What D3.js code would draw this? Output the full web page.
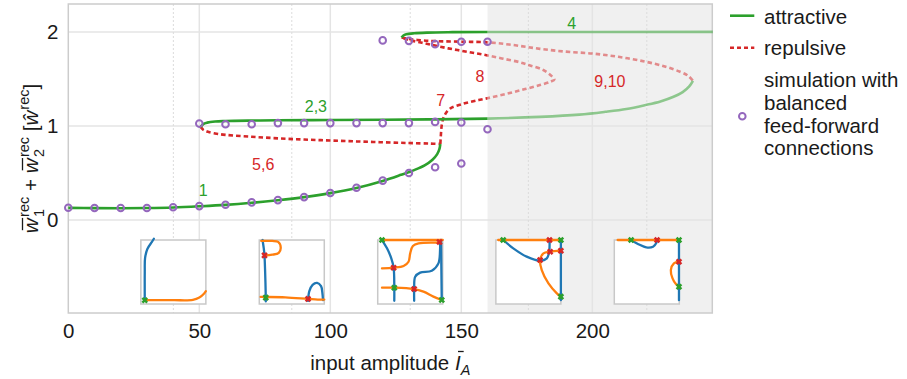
<!DOCTYPE html>
<html>
<head>
<meta charset="utf-8">
<script src="https://cdn.jsdelivr.net/npm/d3@7"></script>
<style>
  html, body { margin: 0; padding: 0; background: #fff; }
  svg { display: block; font-family: "Liberation Sans", Arial, Helvetica, sans-serif; }
</style>
</head>
<body>
<svg id="chart" width="907" height="379"></svg>
<script>
// ---- data ----
const xTicks = [0, 50, 100, 150, 200];
const yTicks = [0, 1, 2];
const shadeFrom = 160;          // grey region (input > 160)

// branch 1 : low attractive state
const lowAttr = [[0,0.128],[10,0.126],[20,0.125],[30,0.127],[40,0.133],[50,0.145],[60,0.16],[70,0.182],
  [80,0.21],[90,0.243],[100,0.285],[110,0.34],[120,0.415],[127,0.48],[132,0.53],[136,0.58],[139,0.64],
  [140.8,0.7],[141.6,0.75],[142,0.808]];
// branch 2,3 : middle attractive state (continues light up to the fold)
const midAttr = [[50.5,0.99],[51.5,1.02],[53,1.035],[56,1.047],[60,1.052],[70,1.057],[80,1.06],[100,1.063],
  [120,1.066],[140,1.07],[160,1.078],[180,1.096],[195,1.12],[205,1.15],[213,1.18],[220,1.22],[226,1.26],
  [231,1.31],[234.5,1.36],[237,1.42],[238.4,1.48]];
// branch 4 : high attractive state
const highAttr = [[127.2,1.94],[127.8,1.96],[129,1.975],[132,1.986],[137,1.993],[145,1.997],[160,1.999],[246,2.0]];
// branch 5,6 : repulsive
const rep56 = [[50.5,0.99],[51.5,0.96],[53,0.94],[56,0.92],[60,0.905],[70,0.885],[80,0.868],[90,0.855],
  [100,0.845],[110,0.835],[120,0.826],[130,0.818],[138,0.812],[142,0.808]];
// branches 7 and 8 : repulsive
const rep78 = [[142,0.808],[142.2,0.9],[142.5,1.0],[143,1.07],[144.2,1.14],[146,1.19],[150,1.23],[155,1.265],
  [160,1.295],[167,1.34],[174,1.39],[180,1.435],[184,1.47],[185.5,1.495],[184.5,1.53],[181.3,1.595],
  [176,1.645],[172.4,1.677],[166,1.715],[160,1.75],[155,1.775],[150,1.8],[145,1.825],[140,1.855],
  [135,1.885],[130,1.915],[127.2,1.94]];
// branch 9,10 : repulsive
const rep910 = [[127.2,1.94],[130,1.925],[135,1.91],[140,1.902],[150,1.896],[160,1.889],[170,1.86],[180,1.82],
  [190,1.79],[200,1.77],[210,1.735],[220,1.685],[228,1.63],[233.5,1.576],[236.5,1.535],[238.4,1.48]];

// simulation with balanced feed-forward connections
const simX = [0,10,20,30,40,50,60,70,80,90,100,110,120,130,140,150,
              50,60,70,80,90,100,110,120,130,140,150,160,
              120,130,140,150,160];
const simY = [0.13,0.127,0.127,0.127,0.135,0.147,0.162,0.187,0.211,0.243,0.286,0.343,0.418,0.499,0.56,0.60,
              1.025,1.018,1.018,1.03,1.03,1.03,1.03,1.03,1.03,1.043,1.036,0.965,
              1.91,1.905,1.87,1.895,1.895];

const annotations = [
  { t: "1",    x: 51.5,  y: 0.31,  c: "green" },
  { t: "2,3",  x: 94.5,  y: 1.21,  c: "green" },
  { t: "4",    x: 192.1, y: 2.09,  c: "green" },
  { t: "5,6",  x: 74.4,  y: 0.594, c: "red" },
  { t: "7",    x: 142.1, y: 1.275, c: "red" },
  { t: "8",    x: 157.1, y: 1.53,  c: "red" },
  { t: "9,10", x: 206.7, y: 1.47,  c: "red" }
];

// phase-plane insets, centred on these inputs; coords in [0,1]
const insetX = [40.1, 85.3, 130.5, 175.6, 220.8];
const insetY = -0.554;
const insetBlue = [
  [[[0.06,0.06],[0.06,0.5],[0.065,0.72],[0.1,0.86],[0.17,0.97],[0.2,1.02]]],
  [[[0.05,1.0],[0.07,0.86],[0.08,0.76],[0.09,0.5],[0.1,0.1],[0.1,0.04]],
   [[0.75,0.05],[0.77,0.2],[0.82,0.3],[0.89,0.33],[0.95,0.28],[0.97,0.18],[0.98,0.06]]],
  [[[0.066,1.0],[0.143,0.87],[0.209,0.714],[0.245,0.568],[0.255,0.255],[0.255,0.05]],
   [[0.561,0.05],[0.561,0.234],[0.577,0.427],[0.653,0.49],[0.832,0.52],[0.934,0.635],[0.959,0.844],[0.959,0.974]],
   [[0.974,1.0],[0.985,0.0625]]],
  [[[0.113,1.0],[0.268,0.87],[0.474,0.74],[0.68,0.677],[0.784,0.714],[0.82,0.818],[0.825,1.0]],
   [[1.0,1.0],[1.0,0.06]]],
  [[[0.259,1.0],[0.363,0.938],[0.492,0.885],[0.596,0.896],[0.648,0.958],[0.658,1.0]],
   [[0.995,1.0],[0.995,0.06]]]
];
const insetOrange = [
  [[[0.06,0.06],[0.5,0.06],[0.8,0.065],[0.9,0.1],[0.97,0.16],[1.0,0.2]]],
  [[[0.02,0.11],[0.1,0.11],[0.4,0.105],[0.75,0.08],[0.9,0.07],[1.0,0.07]],
   [[0.03,0.985],[0.2,0.985],[0.29,0.97],[0.33,0.88],[0.3,0.8],[0.2,0.77],[0.08,0.76]]],
  [[[0.066,1.0],[1.0,1.0]],
   [[0.066,0.557],[0.245,0.568],[0.398,0.594],[0.474,0.661],[0.5,0.792],[0.541,0.906],[0.628,0.948],[0.96,0.958]],
   [[0.066,0.255],[0.255,0.255],[0.551,0.234],[0.704,0.193],[0.857,0.115],[0.985,0.0625]]],
  [[[0.036,1.0],[1.0,1.0]],
   [[1.0,0.833],[0.835,0.818],[0.732,0.79],[0.68,0.687],[0.706,0.531],[0.809,0.323],[0.938,0.167],[1.0,0.115]]],
  [[[0.052,1.0],[1.0,1.0]],
   [[0.995,0.661],[0.917,0.635],[0.87,0.531],[0.896,0.401],[0.948,0.3125],[0.995,0.271]]]
];
const insetStable = [
  [[0.06,0.06]],
  [[0.1,0.1]],
  [[0.066,1.0],[0.255,0.255],[0.985,0.0625]],
  [[0.113,1.0],[1.0,1.0],[1.0,0.115]],
  [[0.259,1.0],[0.995,1.0],[0.995,0.271]]
];
const insetUnstable = [
  [],
  [[0.08,0.76],[0.75,0.08]],
  [[0.95,0.97],[0.245,0.568],[0.561,0.234]],
  [[0.825,1.0],[0.68,0.687],[0.835,0.818],[1.0,0.833]],
  [[0.658,1.0],[0.995,0.661]]
];

// ---- layout ----
const col = { green: "#2ca02c", red: "#d62728", purple: "#9467bd", blue: "#1f77b4", orange: "#ff7f0e" };
const box = { left: 68.3, right: 712.3, top: 4, bottom: 313 };
const fs = 20.5;
const insetW = 65, insetH = 64;

const svg = d3.select("#chart");

const x = d3.scaleLinear().domain([0, 245.8]).range([box.left, box.right]);
const y = d3.scaleLinear().domain([-0.99, 2.297]).range([box.bottom, box.top]);

// shaded region
svg.append("rect")
  .attr("x", x(shadeFrom)).attr("y", box.top)
  .attr("width", box.right - x(shadeFrom)).attr("height", box.bottom - box.top)
  .attr("fill", "#f0f0f0");

// grid
const grid = svg.append("g");
grid.selectAll(".gx").data(xTicks.filter(d => d > 0)).enter().append("line")
  .attr("x1", d => x(d)).attr("x2", d => x(d)).attr("y1", box.top).attr("y2", box.bottom)
  .attr("stroke", "#e4e4e4").attr("stroke-width", 1.5);
grid.selectAll(".gy").data(yTicks).enter().append("line")
  .attr("x1", box.left).attr("x2", box.right).attr("y1", d => y(d)).attr("y2", d => y(d))
  .attr("stroke", "#e4e4e4").attr("stroke-width", 1.5);
grid.selectAll(".gi").data(insetX).enter().append("line")
  .attr("x1", d => x(d)).attr("x2", d => x(d)).attr("y1", box.top).attr("y2", box.bottom)
  .attr("stroke", "#dcdcdc").attr("stroke-width", 1).attr("stroke-dasharray", "2,2");

// frame
svg.append("rect")
  .attr("x", box.left).attr("y", box.top)
  .attr("width", box.right - box.left).attr("height", box.bottom - box.top)
  .attr("fill", "none").attr("stroke", "#cccccc").attr("stroke-width", 1.5);

// axes (labels only)
const xAxis = svg.append("g").attr("transform", `translate(0,${box.bottom})`)
  .call(d3.axisBottom(x).tickValues(xTicks).tickSize(0).tickPadding(10.4).tickFormat(d3.format("d")));
const yAxis = svg.append("g").attr("transform", `translate(${box.left},0)`)
  .call(d3.axisLeft(y).tickValues(yTicks).tickSize(0).tickPadding(10).tickFormat(d3.format("d")));
[xAxis, yAxis].forEach(a => {
  a.select(".domain").remove();
  a.selectAll("text").attr("font-size", fs).attr("fill", "#1a1a1a")
    .attr("font-family", "'Liberation Sans', Arial, sans-serif");
});

// insets
const insetLine = d3.line().curve(d3.curveCatmullRom.alpha(0.5));
const xMark = r => `M${-r},${-r}L${r},${r}M${-r},${r}L${r},${-r}`;
insetX.forEach((cx, i) => {
  const left = x(cx) - insetW / 2, top = y(insetY) - insetH / 2;
  const sx = d3.scaleLinear().domain([0, 1]).range([left, left + insetW]);
  const sy = d3.scaleLinear().domain([0, 1]).range([top + insetH, top]);
  const g = svg.append("g");
  g.append("rect").attr("x", left).attr("y", top).attr("width", insetW).attr("height", insetH)
    .attr("fill", "#fff").attr("stroke", "#c8c8c8").attr("stroke-width", 1.5);
  const draw = (sets, c) => sets.forEach(pts => {
    g.append("path").attr("d", insetLine(pts.map(p => [sx(p[0]), sy(p[1])])))
      .attr("fill", "none").attr("stroke", c).attr("stroke-width", 2.3).attr("stroke-linecap", "round");
  });
  draw(insetBlue[i], col.blue);
  draw(insetOrange[i], col.orange);
  const marks = (pts, c) => pts.forEach(p => {
    g.append("path").attr("transform", `translate(${sx(p[0])},${sy(p[1])})`)
      .attr("d", xMark(2.4)).attr("stroke", c).attr("stroke-width", 2.5).attr("fill", "none");
  });
  marks(insetStable[i], col.green);
  marks(insetUnstable[i], col.red);
});

// bifurcation curves, darker left of the shading, faded inside it
const defs = svg.append("defs");
defs.append("clipPath").attr("id", "clipDark").append("rect")
  .attr("x", 0).attr("y", 0).attr("width", x(shadeFrom)).attr("height", 379);
defs.append("clipPath").attr("id", "clipLight").append("rect")
  .attr("x", x(shadeFrom)).attr("y", 0).attr("width", 907 - x(shadeFrom)).attr("height", 379);

const line = d3.line().x(d => x(d[0])).y(d => y(d[1])).curve(d3.curveCatmullRom.alpha(0.5));
const curves = [
  { d: rep56, c: col.red, dash: true },
  { d: rep78, c: col.red, dash: true },
  { d: rep910, c: col.red, dash: true },
  { d: lowAttr, c: col.green },
  { d: midAttr, c: col.green },
  { d: highAttr, c: col.green }
];
[["clipDark", 1], ["clipLight", 0.5]].forEach(([clip, op]) => {
  const g = svg.append("g").attr("clip-path", `url(#${clip})`).attr("opacity", op);
  curves.forEach(cv => {
    g.append("path").attr("d", line(cv.d)).attr("fill", "none")
      .attr("stroke", cv.c).attr("stroke-width", 2.6)
      .attr("stroke-dasharray", cv.dash ? "4.5,3" : null);
  });
});

// simulation points
svg.append("g").selectAll("circle").data(simX.map((v, i) => [v, simY[i]])).enter().append("circle")
  .attr("cx", d => x(d[0])).attr("cy", d => y(d[1])).attr("r", 3.3)
  .attr("fill", "none").attr("stroke", col.purple).attr("stroke-width", 2);

// branch labels
svg.append("g").selectAll("text").data(annotations).enter().append("text")
  .attr("x", d => x(d.x)).attr("y", d => y(d.y)).attr("dy", "0.35em")
  .attr("text-anchor", "middle").attr("font-size", 16)
  .attr("fill", d => col[d.c]).text(d => d.t);

// x label
const sub = 14.5;
const xl = svg.append("text").attr("x", (box.left + box.right) / 2).attr("y", 369.5)
  .attr("text-anchor", "middle").attr("font-size", fs).attr("fill", "#1a1a1a");
xl.append("tspan").text("input amplitude ");
xl.append("tspan").attr("font-style", "italic").text("I");
xl.append("tspan").attr("font-style", "italic").attr("font-size", sub).attr("dy", 5).text("A");
{
  const e = xl.node().getExtentOfChar(16);
  svg.append("line").attr("x1", e.x + 3).attr("x2", e.x + e.width + 3)
    .attr("y1", 369.5 - 18).attr("y2", 369.5 - 18).attr("stroke", "#1a1a1a").attr("stroke-width", 1.3);
}

// y label
const yg = svg.append("g").attr("transform", `translate(38,${(box.top + box.bottom) / 2}) rotate(-90)`);
const yl = yg.append("text").attr("text-anchor", "middle").attr("font-size", fs).attr("fill", "#1a1a1a");
const supDx = -0.556 * sub;
yl.append("tspan").attr("font-style", "italic").text("w");
yl.append("tspan").attr("font-size", sub).attr("dx", 1.5).attr("dy", 5.5).text("1");
yl.append("tspan").attr("font-size", sub).attr("dx", supDx).attr("dy", -15).text("rec");
yl.append("tspan").attr("dy", 9.5).text(" + ");
yl.append("tspan").attr("font-style", "italic").text("w");
yl.append("tspan").attr("font-size", sub).attr("dx", 1.5).attr("dy", 5.5).text("2");
yl.append("tspan").attr("font-size", sub).attr("dx", supDx).attr("dy", -15).text("rec");
yl.append("tspan").attr("dy", 9.5).text(" [");
yl.append("tspan").attr("font-style", "italic").text("\u0175");
yl.append("tspan").attr("font-size", sub).attr("dx", 1).attr("dy", -9.5).text("rec");
yl.append("tspan").attr("dy", 9.5).text("]");
[0, 8].forEach(idx => {
  const e = yl.node().getExtentOfChar(idx);
  yg.append("line").attr("x1", e.x + 3).attr("x2", e.x + e.width + 0.5)
    .attr("y1", -15.5).attr("y2", -15.5).attr("stroke", "#1a1a1a").attr("stroke-width", 1.3);
});

// legend
const lg = svg.append("g").attr("font-size", fs).attr("fill", "#1a1a1a");
lg.append("line").attr("x1", 730).attr("x2", 754.3).attr("y1", 15.7).attr("y2", 15.7)
  .attr("stroke", col.green).attr("stroke-width", 2.6);
lg.append("text").attr("x", 764).attr("y", 23.5).text("attractive");
lg.append("line").attr("x1", 730).attr("x2", 754.3).attr("y1", 47.7).attr("y2", 47.7)
  .attr("stroke", col.red).attr("stroke-width", 2.6).attr("stroke-dasharray", "4,3");
lg.append("text").attr("x", 764).attr("y", 54.5).text("repulsive");
lg.append("circle").attr("cx", 742.3).attr("cy", 116.3).attr("r", 3.3)
  .attr("fill", "none").attr("stroke", col.purple).attr("stroke-width", 2);
["simulation with", "balanced", "feed-forward", "connections"].forEach((t, i) => {
  lg.append("text").attr("x", 764).attr("y", 87.3 + i * 22.7).text(t);
});
</script>
</body>
</html>
